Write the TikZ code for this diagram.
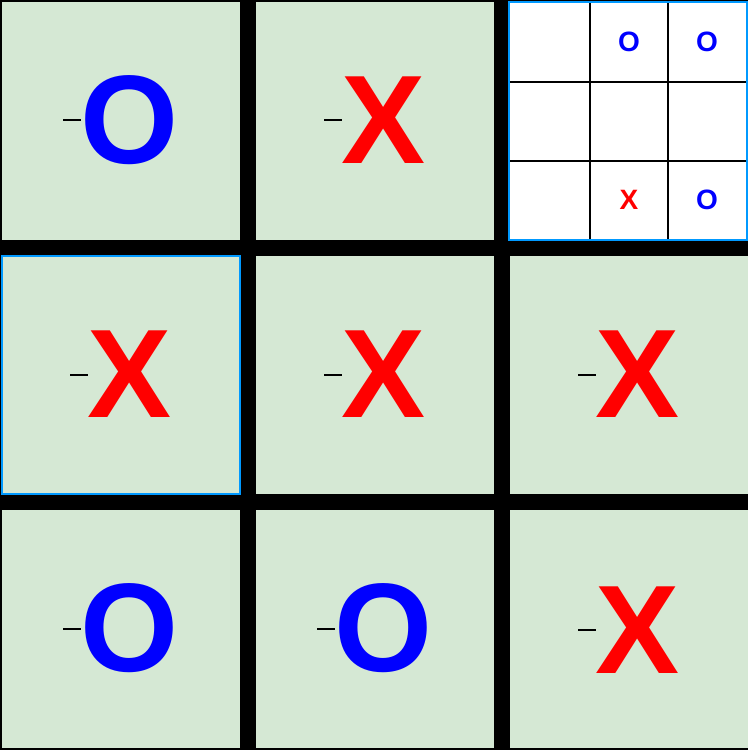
\documentclass[tikz,border=0pt]{standalone}
\usepackage{fontspec}
\setmainfont{Liberation Sans}
\definecolor{cellgreen}{HTML}{D5E8D4}
\definecolor{selblue}{RGB}{0,153,255}
\definecolor{pieceblue}{RGB}{0,0,255}
\definecolor{piecered}{RGB}{255,0,0}
\tikzset{
  cell/.style={rectangle, minimum width=238pt, minimum height=238pt, inner sep=0pt, fill=cellgreen},
  bigO/.style={inner sep=0pt, text=pieceblue, font=\fontsize{126}{126}\selectfont\bfseries},
  bigX/.style={inner sep=0pt, text=piecered, font=\fontsize{126}{126}\selectfont\bfseries},
  smallO/.style={inner sep=0pt, text=pieceblue, font=\fontsize{28}{28}\selectfont\bfseries},
  smallX/.style={inner sep=0pt, text=piecered, font=\fontsize{28}{28}\selectfont\bfseries},
  dashmark/.style={line width=2pt, black},
  gridline/.style={line width=1.5pt, black}
}
\begin{document}
\begin{tikzpicture}[x=1pt,y=-1pt]
\fill[black] (0,0) rectangle (748,750);
\useasboundingbox (0,0) rectangle (748,750);
% cells
\node[cell] (c11) at (121,121) {};
\node[cell] (c12) at (375,121) {};
\node[cell, fill=white, draw=selblue, line width=2.6pt] (c13) at (628,121) {};
\node[cell, draw=selblue, line width=2.6pt] (c21) at (121,375) {};
\node[cell] (c22) at (375,375) {};
\node[cell] (c23) at (629,375) {};
\node[cell] (c31) at (121,629) {};
\node[cell] (c32) at (375,629) {};
\node[cell] (c33) at (629,629) {};
% inner board of top-right cell
\draw[gridline] (590,3) -- (590,239);
\draw[gridline] (668,3) -- (668,239);
\draw[gridline] (510,82) -- (746,82);
\draw[gridline] (510,161) -- (746,161);
\node[smallO] (s12) at (629,42) {O};
\node[smallO] (s13) at (707,42) {O};
\node[smallX] (s32) at (629,200) {X};
\node[smallO] (s33) at (707,200) {O};
% big pieces
\node[bigO] (p11) at (130,120) {O};
\node[bigX] (p12) at (384,120) {X};
\node[bigX] (p21) at (130,374) {X};
\node[bigX] (p22) at (384,374) {X};
\node[bigX] (p23) at (638,374) {X};
\node[bigO] (p31) at (130,628) {O};
\node[bigO] (p32) at (384,628) {O};
\node[bigX] (p33) at (638,630) {X};
% dashes
\draw[dashmark] (63,120) -- (81,120);
\draw[dashmark] (324,120) -- (342,120);
\draw[dashmark] (70,375) -- (88,375);
\draw[dashmark] (324,375) -- (342,375);
\draw[dashmark] (578,375) -- (596,375);
\draw[dashmark] (63,629) -- (81,629);
\draw[dashmark] (317,629) -- (335,629);
\draw[dashmark] (578,630) -- (596,630);
\end{tikzpicture}
\end{document}
